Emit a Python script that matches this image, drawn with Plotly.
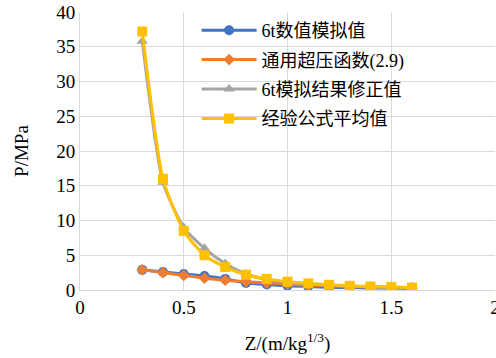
import plotly.graph_objects as go

z = [0.3, 0.4, 0.5, 0.6, 0.7, 0.8, 0.9, 1.0, 1.1, 1.2, 1.3, 1.4, 1.5, 1.6]
sim_6t = [2.9, 2.6, 2.3, 2.0, 1.6, 1.0, 0.8, 0.6, 0.5, 0.4, 0.35, 0.3, 0.28, 0.25]
general = [2.9, 2.5, 2.1, 1.7, 1.4, 1.2, 1.0, 0.85, 0.7, 0.6, 0.5, 0.42, 0.36, 0.3]
corrected = [35.8, 15.5, 9.0, 6.0, 3.8, 2.3, 1.5, 1.1, 0.85, 0.7, 0.55, 0.45, 0.38, 0.32]
empirical = [37.2, 16.0, 8.5, 5.0, 3.3, 2.2, 1.6, 1.2, 0.95, 0.75, 0.6, 0.5, 0.42, 0.35]

names = ["6t数值模拟值", "通用超压函数(2.9)", "6t模拟结果修正值", "经验公式平均值"]
colors = ["#4472C4", "#ED7D31", "#A5A5A5", "#FFC000"]
symbols = ["circle", "diamond", "triangle-up", "square"]
sizes = [10, 9, 10, 10]
series = [sim_6t, general, corrected, empirical]

fig = go.Figure()
for i, (n, c, s, sz, y) in enumerate(zip(names, colors, symbols, sizes, series)):
    fig.add_trace(go.Scatter(
        x=z, y=y, name=n, mode="lines+markers", legendgroup=f"g{i}",
        line=dict(color=c, width=3, shape="spline", smoothing=0.6),
        marker=dict(color=c, symbol=s, size=sz),
    ))

# white legend panel covering the gridlines (as in the original chart)
fig.add_shape(type="rect", xref="paper", yref="paper", x0=0.281, x1=1.0, y0=0.51, y1=1.0,
              fillcolor="white", line=dict(width=0), layer="between")

font = "Liberation Serif, Times New Roman, Noto Sans CJK SC, serif"
fig.update_layout(
    width=496, height=358,
    margin=dict(l=80, r=1, t=12, b=68),
    paper_bgcolor="white", plot_bgcolor="white",
    font=dict(family=font, size=19, color="#000000"),
    showlegend=True,
    legend=dict(x=0.281, y=1.0, xanchor="left", yanchor="top",
                bgcolor="rgba(255,255,255,0)", borderwidth=0, traceorder="grouped",
                font=dict(family=font, size=18), itemwidth=55,
                tracegroupgap=3),
    xaxis=dict(range=[0, 2], dtick=0.5, showgrid=True, gridcolor="#D9D9D9", gridwidth=1,
               zeroline=False, showline=True, linecolor="#D9D9D9", linewidth=1,
               ticks="", tickfont=dict(size=19), automargin=False,
               ticklabeloverflow="allow",
               title=dict(text="Z/(m/kg<sup>1/3</sup>)", font=dict(size=19), standoff=19)),
    yaxis=dict(range=[0, 40], dtick=5, showgrid=True, gridcolor="#D9D9D9", gridwidth=1,
               zeroline=False, showline=True, linecolor="#D9D9D9", linewidth=1,
               ticks="", tickfont=dict(size=19), automargin=False,
               title=dict(text="P/MPa", font=dict(size=19), standoff=22)),
)
fig.write_html("out.html", config={"displayModeBar": False},
               post_script="document.body.style.margin='0';document.body.style.padding='0';")
